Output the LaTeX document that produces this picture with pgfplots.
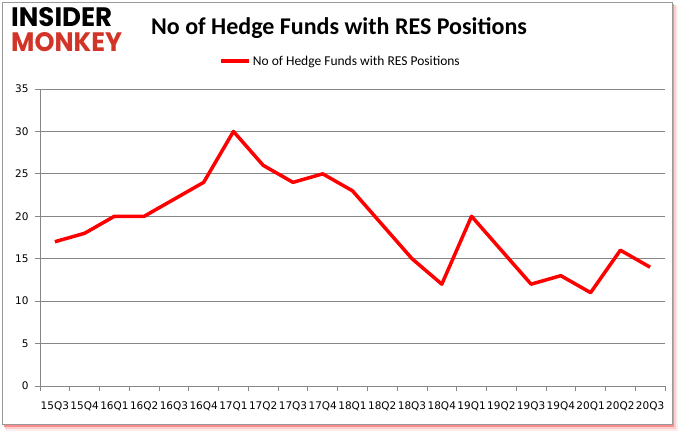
\documentclass[border=0pt]{standalone}
\usepackage{pgfplots}
\pgfplotsset{compat=1.18}
\usepackage{graphicx}
\usepackage{fontspec}
\setmainfont{DejaVu Sans}
\newfontfamily\dejavu{DejaVu Sans}
\newfontfamily\titlefont{Carlito}
\newfontfamily\logofont{Poppins}
\definecolor{gridgray}{RGB}{134,134,134}
\definecolor{logored}{RGB}{210,52,40}
\newcommand\tl[1]{\mbox{\dejavu #1}}
\begin{document}
\begin{tikzpicture}[x=1pt,y=1pt]
\fill[white] (0,0) rectangle (678,431);
% red shadow
\fill[red!8] (6,0) rectangle (678,425);
\fill[red!20] (5,2) rectangle (676,426);
\fill[red!45] (4,4) rectangle (674,427);
\fill[white] (2,7) rectangle (672,429);
\draw[gray!80, line width=0.8pt] (2,7) rectangle (672,429);
% logo
\node[anchor=west, inner sep=0pt] at (11,414) {\resizebox{101pt}{19pt}{\logofont\bfseries INSIDER}};
\node[anchor=west, inner sep=0pt, text=logored] at (11,389) {\resizebox{111pt}{19pt}{\logofont\bfseries MONKEY}};
% title
\node at (339,403) {\titlefont\bfseries\fontsize{24}{28}\selectfont No of Hedge Funds with RES Positions};
\begin{axis}[
  at={(40pt,45pt)}, anchor=south west,
  scale only axis, width=625pt, height=297pt,
  xmin=-0.5, xmax=20.5, ymin=0, ymax=35,
  axis lines*=left,
  axis line style={gridgray, line width=0.8pt},
  ytick={0,5,...,35},
  xtick={0,...,20},
  xticklabels={\tl{15Q3},\tl{15Q4},\tl{16Q1},\tl{16Q2},\tl{16Q3},\tl{16Q4},\tl{17Q1},\tl{17Q2},\tl{17Q3},\tl{17Q4},\tl{18Q1},\tl{18Q2},\tl{18Q3},\tl{18Q4},\tl{19Q1},\tl{19Q2},\tl{19Q3},\tl{19Q4},\tl{20Q1},\tl{20Q2},\tl{20Q3}},
  minor xtick={-0.5,0.5,...,20.5},
  major x tick style={draw=none},
  minor tick length=5pt,
  major tick length=5pt,
  tick align=outside,
  tick style={gridgray, line width=0.8pt},
  ymajorgrids,
  grid style={gridgray, line width=0.8pt},
  /pgf/number format/assume math mode=true,
  xticklabel style={font=\dejavu\fontsize{10.5}{12}\selectfont, yshift=-7pt},
  yticklabel style={font=\dejavu\fontsize{10.5}{12}\selectfont, xshift=-3pt},
  legend style={at={(0.481,1.094)}, anchor=center, draw=none, fill=none,
    font=\titlefont\fontsize{13.5}{15}\selectfont},
  legend image code/.code={\draw[red, line width=3.5pt] (0pt,0pt) -- (28pt,0pt);},
  clip=false,
]
\addplot[red, line width=3.5pt, line join=round] coordinates {
(0,17)(1,18)(2,20)(3,20)(4,22)(5,24)(6,30)(7,26)(8,24)(9,25)(10,23)(11,19)(12,15)(13,12)(14,20)(15,16)(16,12)(17,13)(18,11)(19,16)(20,14)};
\addlegendentry{No of Hedge Funds with RES Positions}
\end{axis}
\end{tikzpicture}
\end{document}
